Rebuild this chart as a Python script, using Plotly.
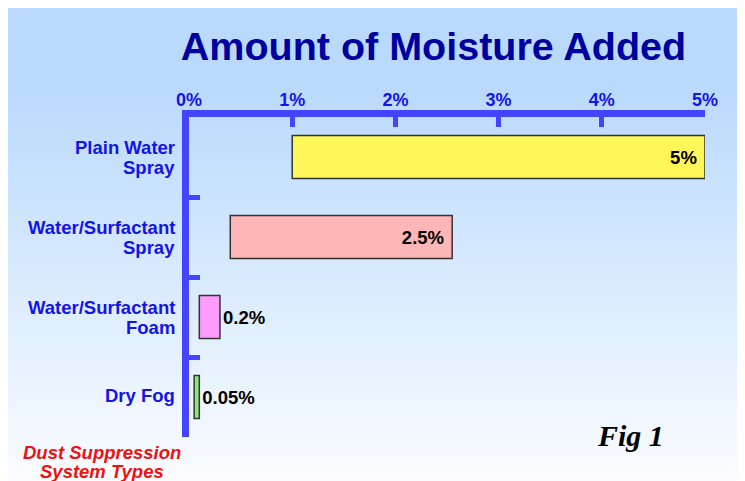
import plotly.graph_objects as go

# ---- data ----
categories = ["Plain Water<br>Spray", "Water/Surfactant<br>Spray", "Water/Surfactant<br>Foam", "Dry Fog"]
range_start = [1.0, 0.4, 0.1, 0.05]
range_end = [5.0, 2.55, 0.3, 0.1]
value_labels = ["5%", "2.5%", "0.2%", "0.05%"]
bar_colors = ["#FFF75A", "#FFB6B6", "#FF9CFF", "#8BE97A"]
tick_vals = [0, 1, 2, 3, 4, 5]
tick_text = ["0%", "1%", "2%", "3%", "4%", "5%"]

O = 8  # page body margin
W, H = 737, 473
L, T = 189 - O, 117 - O
R = W - (705 - O)
B = H - (437 - O)
PW, PH = W - L - R, H - T - B

def px_x(sx):
    return (sx - O - L) / PW

def px_y(sy):
    return (H - B - (sy - O)) / PH

widths = [e - s for s, e in zip(range_start, range_end)]

fig = go.Figure()
fig.add_trace(go.Bar(
    y=categories, x=widths, base=range_start, orientation="h",
    marker=dict(color=bar_colors, line=dict(color="#333333", width=1.5)),
    width=0.54,
    text=value_labels, texttemplate="%{text}\u00a0", textposition=["inside", "inside", "outside", "outside"],
    insidetextanchor="end", textangle=0,
    textfont=dict(family="Liberation Sans, Arial", size=18.5, color="black", weight="bold"),
    cliponaxis=False, hoverinfo="skip", showlegend=False,
))

# background gradient (stripes), in screen pixels
shapes = []
top_col = (0xBA, 0xDA, 0xFD)
bot_col = (0xFA, 0xFC, 0xFF)
g_start, g_end = 90, 478
step = 4
y = O
while y < O + H:
    t = min(max((y - g_start) / (g_end - g_start), 0), 1)
    c = tuple(round(a + (b - a) * t) for a, b in zip(top_col, bot_col))
    shapes.append(dict(type="rect", xref="paper", yref="paper", layer="below",
                       x0=px_x(O - 2), x1=px_x(O + W + 2),
                       y0=px_y(min(y + step + 1, O + H + 2)), y1=px_y(y - (2 if y == O else 0)),
                       fillcolor="rgb(%d,%d,%d)" % c, line=dict(width=0)))
    y += step

axis_blue = "#4444FF"
label_blue = "#1414E6"
sans = "Liberation Sans, Arial"

annotations = []
# category labels (two lines each, tight line spacing)
for cat in categories:
    lines = cat.split("<br>")
    shifts = [10, -10] if len(lines) == 2 else [2]
    for ln, ys in zip(lines, shifts):
        annotations.append(dict(text=ln, xref="paper", yref="y", x=px_x(176.5), y=cat,
                                xanchor="right", yanchor="middle", yshift=ys, showarrow=False,
                                font=dict(family=sans, size=18.5, color=label_blue, weight="bold")))

for ln, cy in zip(["Dust Suppression", "System Types"], [452.5, 471.5]):
    annotations.append(dict(text=ln, xref="paper", yref="paper",
                            x=px_x(102), y=px_y(cy), xanchor="center", yanchor="middle", showarrow=False,
                            font=dict(family=sans, size=18.5, color="#EE1111", weight="bold", style="italic")))

annotations.append(dict(text="Fig 1", xref="paper", yref="paper",
                        x=px_x(630), y=px_y(435.5), xanchor="center", yanchor="middle", showarrow=False,
                        font=dict(family="Liberation Serif, serif", size=30, color="black", weight="bold", style="italic")))

fig.update_layout(
    width=W, height=H,
    margin=dict(l=L, r=R, t=T, b=B, autoexpand=False),
    paper_bgcolor="white", plot_bgcolor="rgba(0,0,0,0)",
    shapes=shapes,
    xaxis=dict(side="top", range=[0, 5], tickvals=tick_vals, ticktext=tick_text,
               showgrid=False, zeroline=False, showline=True, linecolor=axis_blue, linewidth=7,
               ticks="inside", ticklen=10, tickwidth=5, tickcolor=axis_blue,
               tickfont=dict(family=sans, size=18, color=label_blue, weight="bold"),
               ticklabelstandoff=-3, fixedrange=True),
    yaxis=dict(categoryorder="array", categoryarray=categories, autorange="reversed",
               showgrid=False, zeroline=False, showline=True, linecolor=axis_blue, linewidth=7,
               ticks="inside", ticklen=11, tickwidth=5, tickcolor=axis_blue, tickson="boundaries",
               showticklabels=False, fixedrange=True),
    title=dict(text="Amount of Moisture Added", xref="container", yref="container",
               x=(433.5 - O) / W, y=1 - (46 - O) / H, xanchor="center", yanchor="middle",
               font=dict(family=sans, size=39.5, color="#0000A0", weight="bold")),
    annotations=annotations,
)

fig.write_html("out.html")
